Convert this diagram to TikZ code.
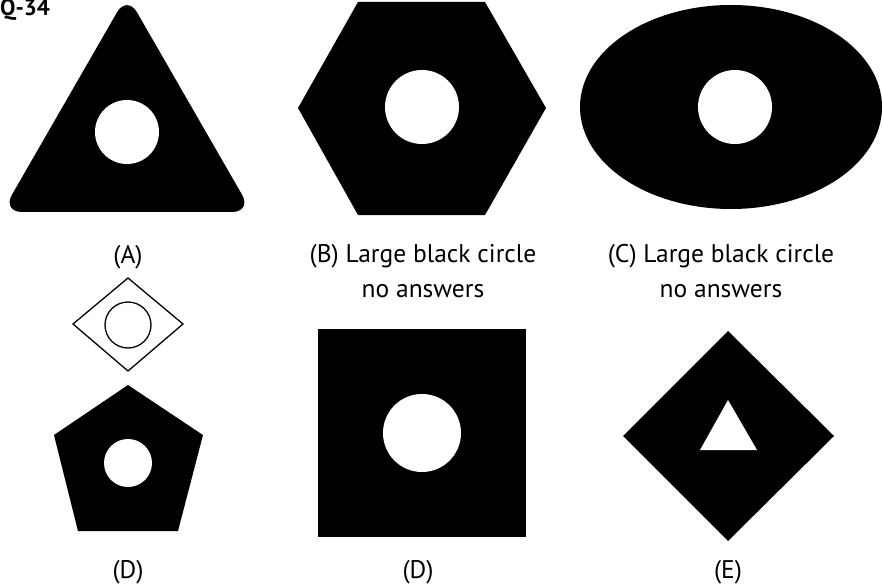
\documentclass[tikz,border=0pt]{standalone}
\usepackage{fontspec}
\setmainfont{PT Sans}
\usepackage{tikz}
\usetikzlibrary{positioning, calc}
\definecolor{shapeink}{HTML}{000000}
\colorlet{holefill}{white}
\tikzset{
  lbl/.style={font=\fontsize{25.5}{30}\selectfont, inner sep=0pt, anchor=base},
  outline/.style={draw=shapeink, line width=1.3pt}
}
\newcommand{\qhole}[3]{%
  \fill[holefill] (#1,#2) circle (#3pt);%
}

\begin{document}
\begin{tikzpicture}[x=1pt, y=-1pt]
    \useasboundingbox (0,0) rectangle (883,588);
    \node[font=\bfseries\fontsize{23}{23}\selectfont, anchor=base west, inner sep=0pt] (qnum) at (0,16) {Q-34};

    % top row
    \fill[shapeink, rounded corners=20pt] (127,-5) -- (252,212) -- (2,212) -- cycle;
    \qhole{127}{132}{32}
    \fill[shapeink] (358,2) -- (485,2) -- (546,108) -- (485,215) -- (358,215) -- (298,108) -- cycle;
    \qhole{422}{107}{37}
    \fill[shapeink] (731,107) circle [x radius=151pt, y radius=102pt];
    \qhole{735}{107}{37}

    \node[lbl] (labA) at (128,263) {(A)};
    \node[lbl] (labB) at (423,262) {(B) Large black circle};
    \node[lbl] (labBtwo) at ([yshift=-35pt]labB.base) {no answers};
    \node[lbl] (labC) at (721,262) {(C) Large black circle};
    \node[lbl] (labCtwo) at ([yshift=-35pt]labC.base) {no answers};

    % bottom row
    \draw[outline] (128,278) -- (183,324) -- (128,371) -- (73,324) -- cycle;
    \draw[outline] (128,325) circle (23pt);
    \fill[shapeink] (128,385) -- (203,435) -- (178,531) -- (78,531) -- (54,435) -- cycle;
    \qhole{128}{463}{24}
    \fill[shapeink] (318,329) rectangle (526,537);
    \qhole{422}{433}{39}
    \fill[shapeink] (728,331) -- (834,436) -- (728,541) -- (623,436) -- cycle;
    \fill[holefill] (728,400) -- (757,450) -- (700,450) -- cycle;

    \node[lbl] (labD) at (128,578) {(D)};
    \node[lbl] (labDtwo) at (418,578) {(D)};
    \node[lbl] (labE) at (728,578) {(E)};
  \end{tikzpicture}
\end{document}
